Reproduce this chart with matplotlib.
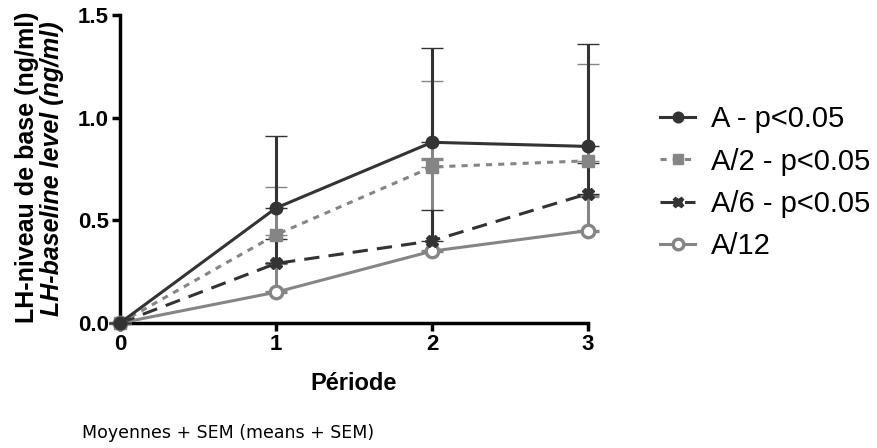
import numpy as np
import matplotlib
matplotlib.use("Agg")
import matplotlib.pyplot as plt

plt.rcParams['font.family'] = ['Liberation Sans', 'DejaVu Sans']

periods = [0, 1, 2, 3]
labels = ["A - p<0.05", "A/2 - p<0.05", "A/6 - p<0.05", "A/12"]

mean_a = [0, 0.56, 0.88, 0.86]
sem_a = [0, 0.35, 0.46, 0.50]
mean_a2 = [0, 0.43, 0.76, 0.79]
sem_a2 = [0, 0.23, 0.42, 0.47]
mean_a6 = [0, 0.29, 0.40, 0.63]
sem_a6 = [0, 0.12, 0.15, 0.15]
mean_a12 = [0, 0.15, 0.35, 0.45]
sem_a12 = [0, 0.14, 0.45, 0.17]

dark = "#333333"
grey = "#858585"

fig = plt.figure(figsize=(8.78, 4.48), dpi=100)
ax = fig.add_axes([120 / 878, 1 - 323 / 448, 468 / 878, 308 / 448])

# styles: (mean, sem, color, linestyle, marker, marker face, zorder)
series = [
    (mean_a12, sem_a12, grey, "-", "o", "white", 3),
    (mean_a6, sem_a6, dark, (0, (5, 3)), "X", dark, 4),
    (mean_a2, sem_a2, grey, (0, (2, 2)), "s", grey, 5),
    (mean_a, sem_a, dark, "-", "o", dark, 6),
]

handles = {}
for (m, s, col, ls, mk, mfc, z), lab in zip(series, labels[::-1]):
    yerr = [np.zeros(len(s)), np.array(s)]
    eb = ax.errorbar(periods, m, yerr=yerr, color=col, linestyle=ls, lw=2.2,
                     marker=mk, markersize=9, markerfacecolor=mfc,
                     markeredgecolor=col, markeredgewidth=2.4 if mfc == "white" else 1,
                     ecolor=col, elinewidth=2.2, capsize=8, capthick=2.2,
                     zorder=z, clip_on=False)
    for art in eb.lines[1] + eb.lines[2]:
        art.set_clip_on(False)
    handles[lab] = eb.lines[0]

ax.set_xlim(0, 3)
ax.set_ylim(0, 1.5)
ax.set_xticks(periods)
ax.set_yticks([0, 0.5, 1.0, 1.5])
ax.set_yticklabels(["0.0", "0.5", "1.0", "1.5"])
for sp in ["top", "right"]:
    ax.spines[sp].set_visible(False)
for sp in ["left", "bottom"]:
    ax.spines[sp].set_linewidth(2.5)
ax.tick_params(width=2.5, length=6, labelsize=16, pad=2)
for t in ax.get_xticklabels() + ax.get_yticklabels():
    t.set_fontweight("bold")

ax.set_xlabel("Période", fontsize=17, fontweight="bold", labelpad=12)

fig.text(27 / 878, 0.626, "LH-niveau de base (ng/ml)", rotation=90,
         fontsize=18, fontweight="bold", ha="center", va="center")
fig.text(52 / 878, 0.623, "LH-baseline level (ng/ml)", rotation=90,
         fontsize=18, fontweight="bold", style="italic", ha="center", va="center")

fig.legend([handles[l] for l in labels], labels, loc="upper left",
           bbox_to_anchor=(634 / 878, 1 - 79 / 448), frameon=False,
           fontsize=21, handlelength=1.2, handletextpad=0.55, labelspacing=0.49,
           markerscale=0.85)

fig.text(82 / 878, 1 - 433 / 448, "Moyennes + SEM (means + SEM)",
         fontsize=12.5, family="DejaVu Sans", va="center")

fig.savefig("out.png", dpi=100)
